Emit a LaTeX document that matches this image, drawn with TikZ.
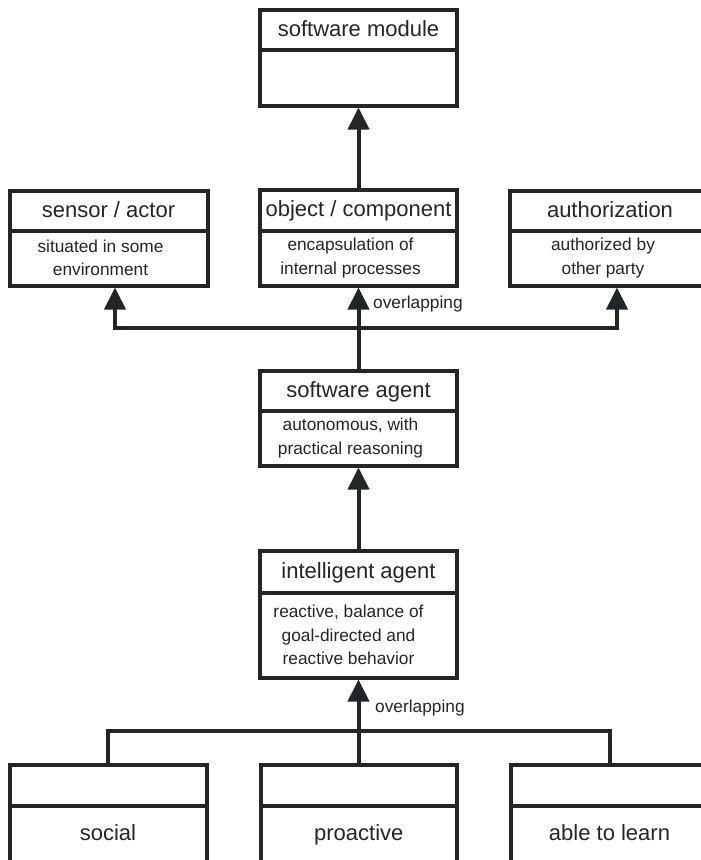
\documentclass[tikz,border=0pt]{standalone}
\usepackage{fontspec}
\setmainfont{Liberation Sans}
\usetikzlibrary{arrows.meta}
\definecolor{ink}{RGB}{35,38,40}
\begin{document}
\begin{tikzpicture}[x=1pt,y=-1pt,
  box/.style={draw=ink, line width=4pt, rectangle, anchor=north west,
              inner sep=0pt, outer sep=0pt, text=ink},
  ttl/.style={box, font=\fontsize{22}{26}\selectfont, text height=16pt, text depth=3pt},
  bdy/.style={box},
  btx/.style={font=\fontsize{17.3}{23.5}\selectfont, align=center, text=ink, inner sep=0pt},
  conn/.style={draw=ink, line width=4pt},
  isa/.style={conn, shorten >=2pt, -{Triangle[length=22pt,width=21pt]}},
  lbl/.style={font=\fontsize{17.3}{20}\selectfont, text=ink, anchor=base west, inner sep=0pt}
]
\useasboundingbox (0,0) rectangle (701,860);
\clip (0,0) rectangle (701,860);

% software module
\node[ttl, minimum width=197pt, minimum height=40.5pt] (smT) at (260,9.5) {software module};
\node[bdy, minimum width=197pt, minimum height=55.5pt] (smB) at (260,50) {};

% sensor / actor
\node[ttl, minimum width=198pt, minimum height=40pt] (saT) at (9.5,190.5) {sensor / actor};
\node[bdy, minimum width=198pt, minimum height=55pt] (saB) at (9.5,230.5) {};
\node[btx] (saTx) at ([xshift=-8pt]saB.center) {situated in some\\environment};

% object / component
\node[ttl, minimum width=197pt, minimum height=40.5pt] (ocT) at (260,190) {object / component};
\node[bdy, minimum width=197pt, minimum height=55pt] (ocB) at (260,230.5) {};
\node[btx] (ocTx) at ([xshift=-8pt]ocB.center) {encapsulation of\\internal processes};

% authorization
\node[ttl, minimum width=201pt, minimum height=40pt] (auT) at (509.5,190.5) {authorization};
\node[bdy, minimum width=201pt, minimum height=55pt] (auB) at (509.5,230.5) {};
\node[btx] (auTx) at ([xshift=-7pt]auB.center) {authorized by\\other party};

% software agent
\node[ttl, minimum width=197pt, minimum height=40pt] (swT) at (260,370.5) {software agent};
\node[bdy, minimum width=197pt, minimum height=55pt] (swB) at (260,410.5) {};
\node[btx] (swTx) at ([xshift=-8pt]swB.center) {autonomous, with\\practical reasoning};

% intelligent agent
\node[ttl, minimum width=197pt, minimum height=41.5pt] (iaT) at (260,551) {intelligent agent};
\node[bdy, minimum width=197pt, minimum height=85pt] (iaB) at (260,592.5) {};
\node[btx] (iaTx) at ([xshift=-10pt]iaB.center) {reactive, balance of\\goal-directed and\\reactive behavior};

% specialisations of the intelligent agent
\node[ttl, minimum width=197pt, minimum height=41pt] (soT) at (9.5,764.5) {};
\node[ttl, minimum width=197pt, minimum height=57pt] (soB) at (9.5,805.5) {social};
\node[ttl, minimum width=196.5pt, minimum height=41pt] (prT) at (260.5,764.5) {};
\node[ttl, minimum width=196.5pt, minimum height=57pt] (prB) at (260.5,805.5) {proactive};
\node[ttl, minimum width=198pt, minimum height=41pt] (alT) at (510.5,764.5) {};
\node[ttl, minimum width=198pt, minimum height=57pt] (alB) at (510.5,805.5) {able to learn};

% generalisation arrows
\draw[isa] (ocT.north) -- (smB.south);
\draw[isa] (swT.north) -- (ocB.south);
\coordinate (jt) at (358.5,327.5);
\draw[isa] (jt) -| ([xshift=6.5pt]saB.south);
\draw[isa] (jt) -| ([xshift=7pt]auB.south);
\node[lbl] (ovTop) at (373,308) {overlapping};

\draw[isa] (iaT.north) -- (swB.south);

\coordinate (jb) at (357,730.5);
\draw[conn] (soT.north) |- (jb) -| (alT.north);
\draw[isa] (iaB.south |- prT.north) -- (iaB.south);
\node[lbl] (ovBot) at (375,712) {overlapping};
\end{tikzpicture}
\end{document}
